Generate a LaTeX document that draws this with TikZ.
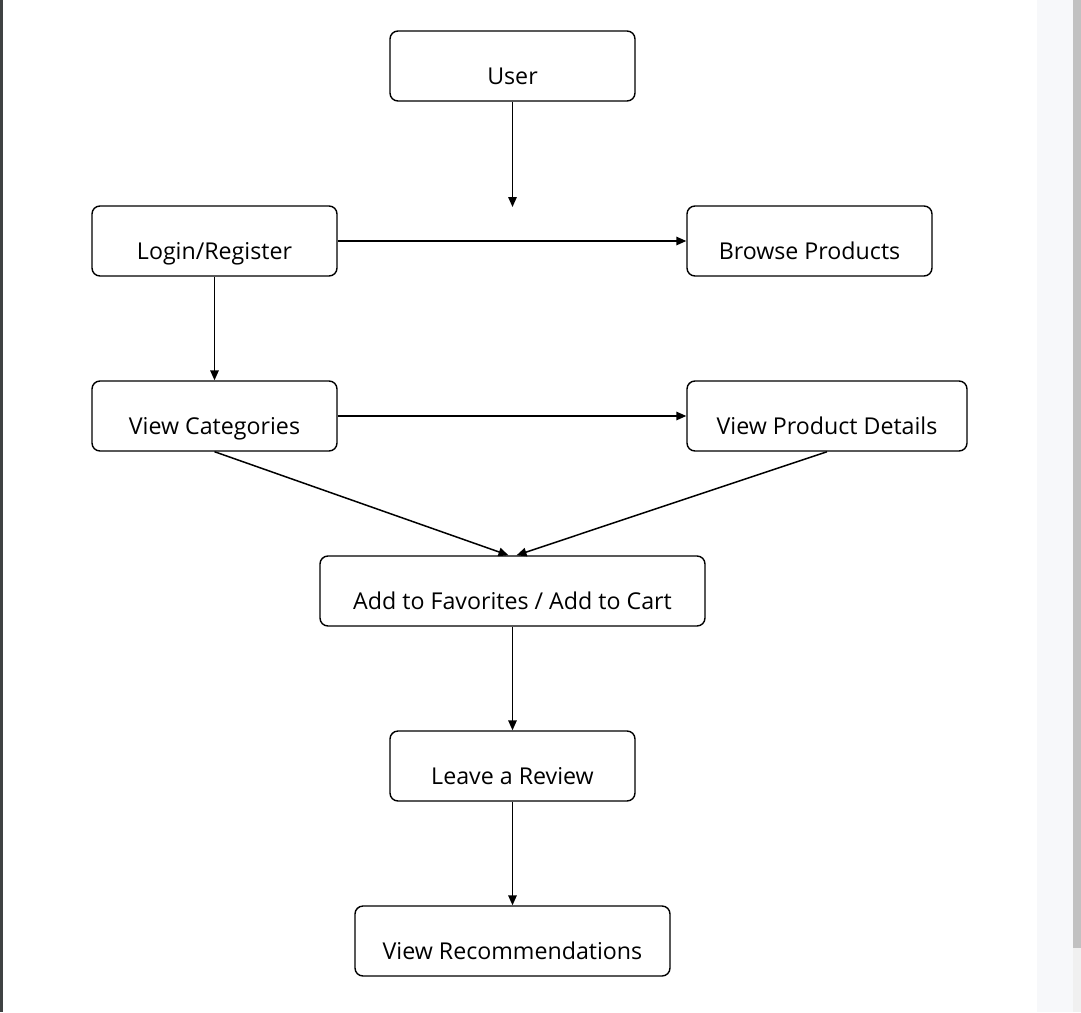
\documentclass[tikz,border=0pt]{standalone}
\usepackage{fontspec}
\setmainfont{Open Sans}
\usetikzlibrary{arrows.meta}

\definecolor{frameedge}{HTML}{3F4243}
\definecolor{sidestrip}{HTML}{F7F8FA}
\definecolor{scrollthumb}{HTML}{C1C1C1}
\definecolor{scrolltrack}{HTML}{F0F0F0}

\tikzset{
    stepbox/.style={draw, line width=1.4pt, rounded corners=8pt, fill=white,
        minimum height=70pt, inner sep=0pt, text height=36pt, text depth=0pt,
        font=\fontsize{23.2pt}{26pt}\selectfont},
    flow/.style={line width=1.5pt, -{Triangle[length=10pt,width=8.5pt]}}
}

\begin{document}
\begin{tikzpicture}[x=1pt, y=-1pt]
    \useasboundingbox (0,0) rectangle (1081,1012);
    % window frame
    \fill[frameedge] (0,0) rectangle (2.5,1012);
    \fill[sidestrip] (1037,0) rectangle (1081,1012);
    \fill[scrollthumb] (1073,0) rectangle (1081,948);
    \fill[scrolltrack] (1073,948) rectangle (1081,1012);

    % steps
    \node[stepbox, minimum width=245pt] (user) at (512.5,66) {User};
    \node[stepbox, minimum width=245pt] (login) at (214.5,241) {Login/Register};
    \node[stepbox, minimum width=245pt] (browse) at (809.5,241) {Browse Products};
    \node[stepbox, minimum width=245pt] (categories) at (214.5,416) {View Categories};
    \node[stepbox, minimum width=280pt] (details) at (827,416) {View Product Details};
    \node[stepbox, minimum width=385pt] (cart) at (512.5,591) {Add to Favorites / Add to Cart};
    \node[stepbox, minimum width=245pt] (review) at (512.5,766) {Leave a Review};
    \node[stepbox, minimum width=315pt] (recommend) at (512.5,941) {View Recommendations};
    \coordinate (userend) at (512.5,207);

    % connectors
    \draw[flow] (user) -- (userend);
    \draw[flow] (login) -- (browse);
    \draw[flow] (login) -- (categories);
    \draw[flow] (categories) -- (details);
    \draw[flow] (categories.south) -- ([xshift=-4pt]cart.north);
    \draw[flow] (details.south) -- ([xshift=4pt]cart.north);
    \draw[flow] (cart) -- (review);
    \draw[flow] (review) -- (recommend);
\end{tikzpicture}
\end{document}
